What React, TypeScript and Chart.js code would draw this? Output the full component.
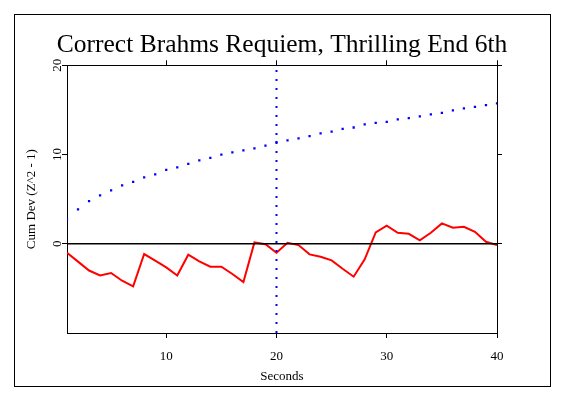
import React, { useEffect, useRef } from "react";
import { Chart, registerables } from "chart.js";

Chart.register(...registerables);

const seconds = [1, 2, 3, 4, 5, 6, 7, 8, 9, 10, 11, 12, 13, 14, 15, 16, 17, 18, 19, 20, 21, 22, 23, 24, 25, 26, 27, 28, 29, 30, 31, 32, 33, 34, 35, 36, 37, 38, 39, 40];
const cumDev = [-1.0, -2.0, -3.0, -3.55, -3.28, -4.14, -4.77, -1.15, -1.9, -2.65, -3.55, -1.23, -1.97, -2.57, -2.57, -3.39, -4.29, 0.15, -0.05, -1.0, 0.1, -0.15, -1.19, -1.45, -1.86, -2.8, -3.69, -1.75, 1.28, 2.02, 1.23, 1.12, 0.38, 1.23, 2.28, 1.79, 1.9, 1.34, 0.22, -0.15];
const envelope = [2.73, 3.85, 4.78, 5.42, 5.98, 6.54, 6.94, 7.43, 7.77, 8.29, 8.55, 8.96, 9.34, 9.63, 10.0, 10.23, 10.46, 10.7, 11.0, 11.4, 11.58, 11.8, 12.06, 12.36, 12.58, 12.88, 13.03, 13.37, 13.55, 13.66, 13.93, 14.08, 14.27, 14.49, 14.67, 14.94, 15.16, 15.34, 15.53, 15.72];
const markerSecond = 20;
const xRange = [1, 40];
const yRange = [-10, 20];
const titleText = "Correct Brahms Requiem, Thrilling End 6th";
const xTitle = "Seconds";
const yTitle = "Cum Dev (Z^2 - 1)";

const framePlugin = {
  id: "frame",
  afterDraw(chart: any) {
    const ctx = chart.ctx;
    ctx.save();
    ctx.strokeStyle = "#000";
    ctx.lineWidth = 1;
    ctx.strokeRect(14.5, 14.5, 536, 372);
    ctx.restore();
  },
};

export default function App() {
  const ref = useRef<HTMLCanvasElement | null>(null);
  useEffect(() => {
    if (!ref.current) return;
    const font = "'Liberation Serif', 'Times New Roman', serif";
    Chart.defaults.font.family = font;
    Chart.defaults.color = "#000";
    const keepNonNeg = (s: any) => {
      s.ticks = s.ticks.filter((t: any) => t.value >= 0);
    };
    const chart = new Chart(ref.current, {
      type: "scatter",
      data: {
        datasets: [
          {
            label: "zero",
            data: [{ x: xRange[0], y: 0 }, { x: xRange[1], y: 0 }],
            showLine: true,
            borderColor: "#000",
            borderWidth: 1.5,
            pointRadius: 0,
          },
          {
            label: "marker",
            data: [{ x: markerSecond, y: yRange[0] }, { x: markerSecond, y: yRange[1] }],
            showLine: true,
            borderColor: "#0000ff",
            borderWidth: 2,
            borderDash: [2, 7],
            pointRadius: 0,
          },
          {
            label: "envelope",
            data: seconds.map((s, i) => ({ x: s, y: envelope[i] })),
            showLine: false,
            pointStyle: "rect",
            pointRadius: 1.6,
            backgroundColor: "#0000ff",
            borderWidth: 0,
          },
          {
            label: "cumdev",
            data: seconds.map((s, i) => ({ x: s, y: cumDev[i] })),
            showLine: true,
            borderColor: "#ff0000",
            borderWidth: 2,
            pointRadius: 0,
            tension: 0,
          },
        ],
      },
      options: {
        responsive: false,
        animation: false,
        devicePixelRatio: 1,
        layout: { padding: { left: 0, right: 0, top: 0, bottom: 0 } },
        plugins: {
          legend: { display: false },
          tooltip: { enabled: false },
          title: {
            display: true,
            text: titleText,
            color: "#000",
            font: { family: font, size: 25.5, weight: "normal", lineHeight: 1.2 },
            padding: { top: 29.7, bottom: 0 },
          },
        },
        scales: {
          x: {
            type: "linear",
            position: "bottom",
            min: xRange[0],
            max: xRange[1],
            afterFit: (s: any) => { s.height = 65; },
            ticks: { stepSize: 10, includeBounds: false, padding: 11, font: { size: 13 }, color: "#000", maxRotation: 0 },
            grid: { drawOnChartArea: false, drawTicks: true, tickLength: 5, color: "#000", tickColor: "#000" },
            border: { display: true, color: "#000", width: 1 },
            title: { display: true, text: xTitle, font: { size: 13 }, color: "#000", padding: { top: 0, bottom: 14 } },
          },
          x2: {
            type: "linear",
            position: "top",
            min: xRange[0],
            max: xRange[1],
            afterFit: (s: any) => { s.height = 5; },
            ticks: { display: false, stepSize: 10, includeBounds: false },
            grid: { drawOnChartArea: false, drawTicks: true, tickLength: 5, color: "#000", tickColor: "#000" },
            border: { display: true, color: "#000", width: 1 },
          },
          y: {
            type: "linear",
            position: "left",
            min: yRange[0],
            max: yRange[1],
            afterBuildTicks: keepNonNeg,
            afterFit: (s: any) => { s.width = 67; },
            ticks: { stepSize: 10, includeBounds: false, minRotation: 90, maxRotation: 90, crossAlign: "center", padding: -2, font: { size: 13 }, color: "#000" },
            grid: { drawOnChartArea: false, drawTicks: true, tickLength: 5, color: "#000", tickColor: "#000" },
            border: { display: true, color: "#000", width: 1 },
            title: { display: true, text: yTitle, font: { size: 13 }, color: "#000", padding: { top: 24, bottom: 0 } },
          },
          y2: {
            type: "linear",
            position: "right",
            min: yRange[0],
            max: yRange[1],
            afterBuildTicks: keepNonNeg,
            afterFit: (s: any) => { s.width = 67; },
            ticks: { display: false, stepSize: 10, includeBounds: false },
            grid: { drawOnChartArea: false, drawTicks: true, tickLength: 5, color: "#000", tickColor: "#000" },
            border: { display: true, color: "#000", width: 1 },
          },
        },
      },
      plugins: [framePlugin],
    } as any);
    return () => chart.destroy();
  }, []);
  return (
    <div style={{ position: "absolute", left: 0, top: 0, width: 564, height: 398, background: "#fff" }}>
      <canvas ref={ref} width={564} height={398} style={{ display: "block" }} />
    </div>
  );
}
